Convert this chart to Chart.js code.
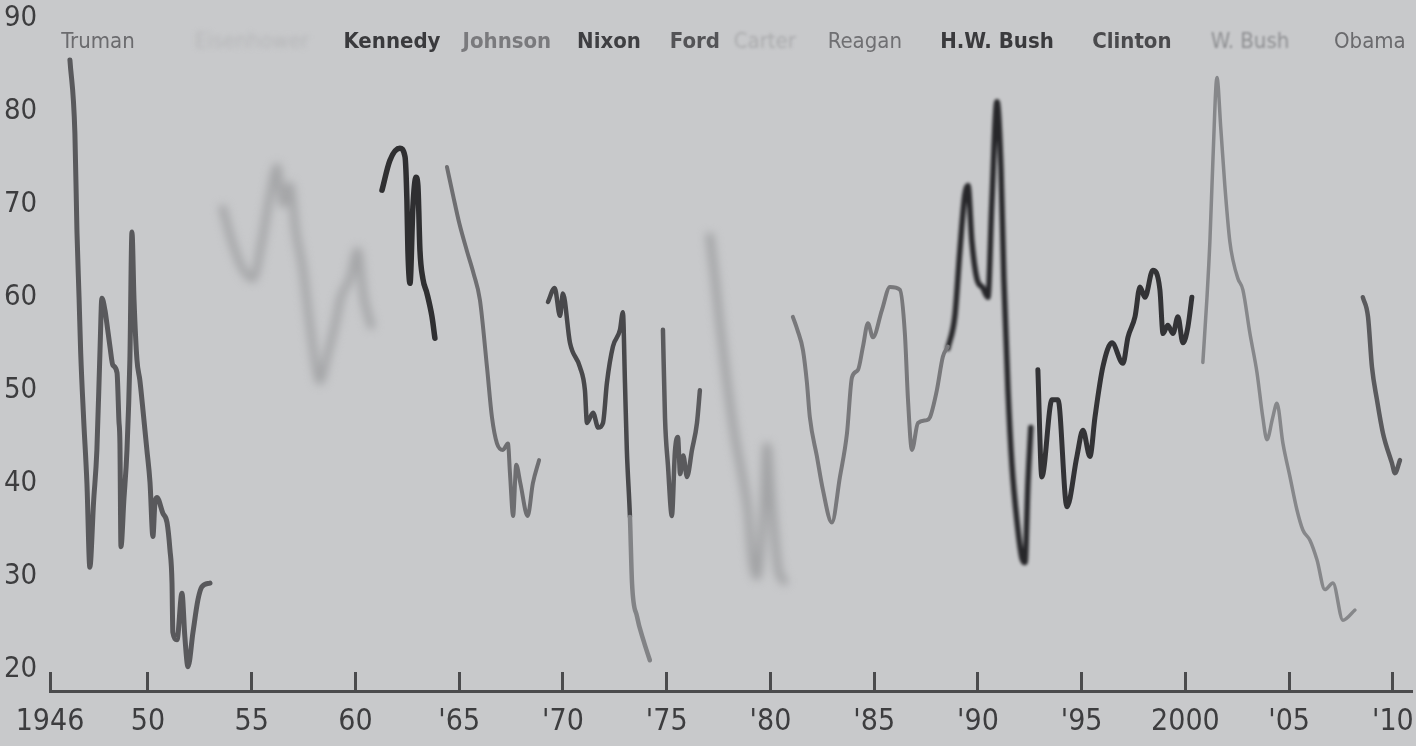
<!DOCTYPE html>
<html><head><meta charset="utf-8">
<script src="https://cdn.jsdelivr.net/npm/chart.js@4.4.1/dist/chart.umd.min.js"></script>
<style>
html,body{margin:0;padding:0;background:#c8c9cb;overflow:hidden;}
#wrap{width:1416px;height:746px;}
</style></head><body>
<div id="wrap"><canvas id="c" width="1416" height="746"></canvas></div>
<script>
// ---------- data (approval rating, %) ----------
const trumanYears = [1946.24,1946.48,1946.58,1946.68,1946.76,1946.9,1947.06,1947.2,1947.38,1947.54,1947.69,1947.78,1947.93,1948.02,1948.17,1948.31,1948.51,1948.6,1948.65,1948.7,1948.84,1948.99,1949.13,1949.23,1949.33,1949.47,1949.61,1949.76,1949.95,1950.1,1950.24,1950.34,1950.43,1950.72,1950.92,1951.06,1951.16,1951.2,1951.4,1951.64,1951.78,1951.93,1952.17,1952.41,1952.6,1952.99];
const trumanValues = [85.5,77.6,67,60,54,47,40,31,38,43.6,54.3,59.9,58.6,57.2,54.7,52.7,51.9,46.8,44.3,33.2,38.2,43.6,53.3,67,59.7,53.3,51.1,47.9,43.6,40.1,34.3,38,38.5,36.8,35.8,32.9,29.3,24,23.2,28.2,23.5,20.3,24,27.5,28.9,29.3];

const eisenhowerYears = [1953.61,1954.05,1954.58,1955.06,1955.49,1955.88,1956.22,1956.51,1956.84,1957.13,1957.47,1957.81,1958.29,1958.67,1959.01,1959.3,1959.73,1960.1,1960.4,1960.75];
const eisenhowerValues = [69.5,66,63,62,66,71,74,70,72,67,63,57,51,54,57,60,62,65,60,57];

const kennedyYears = [1961.28,1961.66,1962.14,1962.39,1962.48,1962.53,1962.63,1962.77,1962.92,1963.01,1963.11,1963.25,1963.45,1963.69,1963.83];
const kennedyValues = [71.5,74.7,76,75.1,70.5,65,61.5,69.7,72.9,72,65,62,60.4,57.9,55.6];

const johnsonYears = [1964.41,1964.7,1965.0,1965.37,1965.7,1966.0,1966.34,1966.58,1966.82,1967.11,1967.35,1967.45,1967.6,1967.75,1967.95,1968.3,1968.55,1968.85];
const johnsonValues = [74,71,68,65,62.5,59.7,52.5,47.1,44.3,43.6,44.3,41,36.5,42,40,36.5,40,42.5];

const nixonYears = [1969.28,1969.6,1969.86,1970.0,1970.34,1970.82,1971.06,1971.16,1971.45,1971.7,1971.93,1972.12,1972.41,1972.75,1972.89,1972.99,1973.08,1973.23,1973.33,1973.57,1973.9,1974.19];
const nixonValues = [59.5,61,58,60.4,55.1,52.5,50,46.5,47.6,46,46.5,50.8,54.7,56.5,58.4,50.8,43.6,36.4,29.3,25.7,23,21];

const fordYears = [1974.82,1974.92,1975.06,1975.25,1975.4,1975.54,1975.65,1975.8,1975.98,1976.22,1976.46,1976.6];
const fordValues = [56.5,47,42,36.5,43.5,45,41,43,40.7,43.6,46.5,50];

const carterYears = [1977.08,1977.33,1977.57,1977.9,1978.29,1978.63,1978.92,1979.11,1979.35,1979.64,1979.83,1980.07,1980.36,1980.65];
const carterValues = [66.5,62,57,51,45,41,37,32,30,36,44,38,31,29.5];

const reaganYears = [1981.08,1981.3,1981.57,1981.76,1981.9,1982.24,1982.53,1982.96,1983.35,1983.69,1983.93,1984.22,1984.46,1984.7,1984.94,1985.37,1985.76,1986.24,1986.48,1986.63,1986.82,1987.11,1987.54,1987.69,1988.02,1988.31,1988.55];
const reaganValues = [57.9,56.5,54.3,50.8,47.1,42.9,39.3,35.8,40.7,45.4,51.4,52.2,54.7,57.2,55.7,58.6,61.1,60.8,56.1,49,43.6,46.5,46.8,47.1,50,53.6,54.7];

const hwBushYears = [1988.55,1988.89,1989.13,1989.37,1989.52,1989.71,1989.95,1990.24,1990.48,1990.67,1990.92,1991.11,1991.25,1991.45,1991.64,1991.88,1992.12,1992.27,1992.41,1992.55];
const hwBushValues = [54.5,58,65,71,72,66,62,61,60,70,81,74,62,50,42,36,32,31.5,40,46];

const clintonYears = [1992.89,1993.08,1993.57,1993.86,1994.29,1994.77,1995.06,1995.4,1995.64,1996.02,1996.46,1996.99,1997.23,1997.57,1997.81,1998.05,1998.43,1998.77,1998.92,1999.15,1999.4,1999.64,1999.88,2000.12,2000.31];
const clintonValues = [52.2,40.7,49,49,37.5,42.9,45.7,42.9,47.1,52.5,55.1,52.9,55.7,57.9,61.1,60,62.9,60.8,56.1,57,56.1,57.9,55.1,56.8,60];

const wBushYears = [2000.84,2001.04,2001.18,2001.33,2001.52,2001.71,2001.9,2002.14,2002.29,2002.53,2002.77,2003.11,2003.45,2003.73,2003.93,2004.2,2004.41,2004.7,2005.04,2005.37,2005.66,2006.0,2006.34,2006.72,2007.11,2007.59,2008.17];
const wBushValues = [53,60,66,75,83.6,78,72,66,64,62,60.8,56.1,51.9,47.1,44.7,47,48.6,44.3,40.7,37.2,35,33.9,31.8,28.6,29.3,25.3,26.4];

const obamaYears = [2008.55,2008.8,2008.99,2009.23,2009.52,2009.95,2010.1,2010.34];
const obamaValues = [60,57.9,52.5,49,45.4,42.2,41.1,42.5];

const presidents = ['Truman','Eisenhower','Kennedy','Johnson','Nixon','Ford','Carter','Reagan','H.W. Bush','Clinton','W. Bush','Obama'];
const nameYears = [1947.59,1955.01,1961.76,1967.3,1972.22,1976.36,1979.73,1984.55,1990.92,1997.42,2003.11,2008.89];

const xTickYears = [1945.28,1950,1955,1960,1965,1970,1975,1980,1985,1990,1995,2000,2005,2010];
const xTickLabels = ['1946','50','55','60',"'65","'70","'75","'80","'85","'90","'95",'2000',"'05","'10"];
const yTickValues = [20,30,40,50,60,70,80,90];

// ---------- styles ----------
const FONT = "'DejaVu Sans Condensed','Liberation Sans Narrow',sans-serif";
const lineColors = ['#59595c','#a5a6a8','#2f2f31','#6e6e71','#48484b','#5a5a5d','#a2a3a5','#78787b','#27272a','#333336','#86878a','#5a5a5d'];
const lineWidths = [5,8,5.5,4,4.5,4.5,8,4,5.5,5,3.5,4.5];
const lineBlur = [0.4,4,0.4,0.4,0.4,0.4,4,0.4,1.5,0.4,0.4,0.4];
const nameColors = ['#6b6b6e','#b6b7b9','#3a3a3d','#7a7a7d','#3f3f42','#545457','#aaabad','#6f6f72','#3a3a3d','#4a4a4d','#8f9093','#6a6a6d'];
const nameWeights = ['normal','normal','bold','bold','bold','bold','normal','normal','bold','bold','normal','normal'];
const nameBlur = [0,2.5,0,0.6,0,0,1.5,0,0,0,0.8,0];
const nameBaseline = 86.8;

const seriesYears = [trumanYears,eisenhowerYears,kennedyYears,johnsonYears,nixonYears,fordYears,carterYears,reaganYears,hwBushYears,clintonYears,wBushYears,obamaYears];
const seriesValues = [trumanValues,eisenhowerValues,kennedyValues,johnsonValues,nixonValues,fordValues,carterValues,reaganValues,hwBushValues,clintonValues,wBushValues,obamaValues];

const datasets = presidents.map((name, i) => ({
  label: name,
  data: seriesYears[i].map((yr, k) => ({x: yr, y: seriesValues[i][k]})),
  borderColor: lineColors[i],
  borderWidth: lineWidths[i],
  pointRadius: 0,
  fill: false,
  cubicInterpolationMode: 'monotone',
  borderCapStyle: 'round',
  borderJoinStyle: 'round',
  segment: name === 'Nixon' ? { borderColor: c => (c.p1.parsed.y < 30 ? '#828386' : undefined) } : undefined
}));

const blurPlugin = {
  id: 'blurLines',
  beforeDatasetDraw(chart, args) {
    chart.ctx.save();
    const b = lineBlur[args.index];
    if (b) chart.ctx.filter = 'blur(' + b + 'px)';
  },
  afterDatasetDraw(chart) { chart.ctx.restore(); }
};

const namePlugin = {
  id: 'names',
  afterDatasetsDraw(chart) {
    const {ctx, scales: {x, y}} = chart;
    ctx.save();
    ctx.textAlign = 'center';
    ctx.textBaseline = 'alphabetic';
    presidents.forEach((n, i) => {
      ctx.font = nameWeights[i] + ' 22px ' + FONT;
      ctx.fillStyle = nameColors[i];
      ctx.filter = nameBlur[i] ? 'blur(' + nameBlur[i] + 'px)' : 'none';
      ctx.fillText(n, x.getPixelForValue(nameYears[i]), y.getPixelForValue(nameBaseline));
    });
    ctx.restore();
  }
};

new Chart(document.getElementById('c'), {
  type: 'line',
  data: { datasets },
  plugins: [blurPlugin, namePlugin],
  options: {
    responsive: false,
    animation: false,
    devicePixelRatio: 1,
    layout: { padding: { left: 4, right: 4, top: 18, bottom: 0 } },
    plugins: { legend: { display: false }, tooltip: { enabled: false } },
    scales: {
      x: {
        type: 'linear',
        min: 1945.28,
        max: 2010.92,
        afterBuildTicks: s => { s.ticks = xTickYears.map(v => ({ value: v })); },
        afterFit: s => { s.height = 55; },
        grid: { display: true, drawOnChartArea: false, drawTicks: true, tickLength: -19, tickWidth: 3, tickColor: '#4b4b4d' },
        border: { display: true, color: '#4b4b4d', width: 3 },
        ticks: {
          autoSkip: false, maxRotation: 0, minRotation: 0, padding: 0,
          color: '#3d3d3f',
          font: { family: FONT, size: 30, lineHeight: '100px' },
          callback: (v, i) => xTickLabels[i]
        }
      },
      y: {
        type: 'linear',
        min: 17.7,
        max: 90,
        afterBuildTicks: s => { s.ticks = yTickValues.map(v => ({ value: v })); },
        afterFit: s => { s.width = 46; },
        grid: { display: false, drawTicks: false },
        border: { display: false },
        ticks: {
          crossAlign: 'far', padding: 0,
          color: '#3d3d3f',
          font: { family: FONT, size: 29, lineHeight: 1 },
          callback: v => String(v)
        }
      }
    }
  }
});
</script>
</body></html>
